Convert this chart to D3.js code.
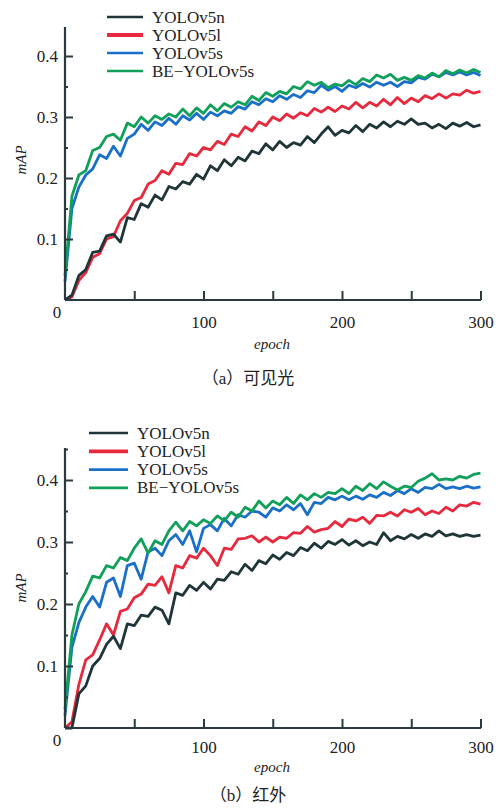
<!DOCTYPE html>
<meta charset="utf-8">
<head>
  <title>mAP curves</title>
</head>

<style>
  body { margin: 0; background: #fff; }
</style>

<body>
  <svg width="496" height="808"></svg>

  <script src="https://cdnjs.cloudflare.com/ajax/libs/d3/7.8.5/d3.min.js"></script>

  <script>
  // epochs 0..300, every 5
  var epochs = d3.range(0, 301, 5);
  var names = ['YOLOv5n', 'YOLOv5l', 'YOLOv5s', 'BE-YOLOv5s'];
  var colors = ['#1f3538', '#e8283c', '#1a6fc9', '#10a05a'];

  // (a) visible light
  var visN = [0,0.008,0.04,0.05,0.078,0.08,0.105,0.108,0.095,0.135,0.132,0.158,0.152,0.172,0.164,0.186,0.182,0.194,0.19,0.206,
    0.198,0.22,0.212,0.23,0.22,0.234,0.228,0.244,0.24,0.256,0.246,0.26,0.25,0.258,0.254,0.268,0.258,0.272,0.284,0.27,
    0.278,0.274,0.286,0.276,0.288,0.282,0.292,0.284,0.293,0.288,0.297,0.288,0.29,0.282,0.288,0.281,0.29,0.285,0.291,0.284,0.287];
  var visL = [0,0.005,0.032,0.045,0.07,0.076,0.1,0.104,0.13,0.142,0.163,0.168,0.19,0.196,0.212,0.206,0.224,0.222,0.24,0.236,
    0.25,0.246,0.26,0.255,0.272,0.268,0.284,0.277,0.292,0.286,0.3,0.294,0.305,0.298,0.307,0.302,0.314,0.308,0.316,0.309,
    0.318,0.313,0.324,0.315,0.324,0.318,0.329,0.32,0.332,0.322,0.331,0.325,0.335,0.33,0.338,0.331,0.338,0.336,0.344,0.339,0.342];
  var visS = [0.03,0.15,0.185,0.205,0.215,0.238,0.232,0.252,0.236,0.265,0.272,0.288,0.278,0.292,0.286,0.298,0.288,0.302,0.295,0.306,
    0.296,0.308,0.302,0.31,0.306,0.317,0.313,0.325,0.32,0.33,0.325,0.335,0.329,0.337,0.332,0.343,0.34,0.352,0.344,0.35,
    0.342,0.352,0.348,0.355,0.349,0.357,0.352,0.357,0.35,0.358,0.356,0.365,0.362,0.37,0.366,0.373,0.369,0.374,0.369,0.373,0.368];
  var visBE = [0.04,0.17,0.205,0.212,0.245,0.25,0.268,0.272,0.262,0.29,0.284,0.3,0.29,0.302,0.296,0.305,0.3,0.313,0.302,0.315,
    0.306,0.32,0.31,0.322,0.316,0.325,0.32,0.334,0.327,0.34,0.334,0.342,0.338,0.35,0.346,0.358,0.352,0.357,0.348,0.354,
    0.351,0.36,0.353,0.363,0.358,0.369,0.364,0.37,0.36,0.365,0.36,0.368,0.364,0.372,0.366,0.376,0.371,0.377,0.372,0.378,0.373];

  // (b) infrared
  var irN = [0,0,0.055,0.068,0.1,0.112,0.135,0.148,0.128,0.168,0.165,0.182,0.18,0.195,0.19,0.168,0.218,0.214,0.23,0.222,
    0.235,0.224,0.24,0.238,0.252,0.248,0.264,0.254,0.27,0.265,0.279,0.272,0.283,0.278,0.291,0.286,0.298,0.29,0.301,0.296,
    0.304,0.295,0.302,0.294,0.3,0.296,0.315,0.302,0.309,0.305,0.312,0.306,0.313,0.309,0.318,0.31,0.313,0.309,0.312,0.309,0.311];
  var irL = [0,0.01,0.07,0.11,0.118,0.142,0.168,0.15,0.188,0.192,0.21,0.216,0.232,0.23,0.244,0.218,0.262,0.258,0.278,0.274,
    0.29,0.278,0.262,0.29,0.288,0.305,0.306,0.31,0.3,0.308,0.3,0.308,0.306,0.315,0.314,0.325,0.316,0.32,0.322,0.333,
    0.325,0.337,0.334,0.34,0.33,0.343,0.342,0.348,0.342,0.352,0.348,0.354,0.344,0.35,0.346,0.356,0.35,0.36,0.358,0.364,0.361];
  var irS = [0.02,0.13,0.17,0.195,0.212,0.195,0.235,0.242,0.212,0.262,0.266,0.24,0.284,0.29,0.278,0.302,0.312,0.296,0.318,0.284,
    0.322,0.328,0.318,0.338,0.326,0.344,0.34,0.35,0.348,0.34,0.355,0.35,0.36,0.352,0.362,0.344,0.364,0.362,0.372,0.368,
    0.374,0.368,0.374,0.369,0.376,0.372,0.38,0.375,0.383,0.378,0.386,0.38,0.388,0.386,0.393,0.386,0.389,0.386,0.39,0.387,0.389];
  var irBE = [0.03,0.15,0.2,0.22,0.245,0.242,0.262,0.258,0.275,0.27,0.29,0.305,0.282,0.302,0.296,0.318,0.332,0.318,0.333,0.326,
    0.336,0.33,0.342,0.334,0.348,0.34,0.356,0.35,0.366,0.355,0.366,0.36,0.372,0.362,0.376,0.368,0.378,0.372,0.38,0.378,
    0.386,0.378,0.39,0.383,0.394,0.386,0.397,0.39,0.384,0.39,0.388,0.398,0.403,0.41,0.4,0.402,0.4,0.406,0.403,0.409,0.411];

  var xTicks = [50, 100, 150, 200, 250, 300];
  var yTicksA = [0.05, 0.1, 0.15, 0.2, 0.25, 0.3, 0.35, 0.4];
  var yTicksB = [0.05, 0.1, 0.15, 0.2, 0.25, 0.3, 0.35, 0.4, 0.45];

  var serif = '"Liberation Serif", "Times New Roman", "DejaVu Serif", serif';
  var svg = d3.select('svg');
  var axisColor = '#2a3a3e';

  function txt(g, x, y, size, s) {
    return g.append('text').attr('x', x).attr('y', y)
      .style('font-family', serif).style('font-size', size + 'px').attr('fill', '#222')
      .text(s);
  }

  function panel(cfg) {
    var x = d3.scaleLinear().domain([0, 300]).range([65, 480.5]);
    var y = d3.scaleLinear().domain([0, 0.45]).range([cfg.y0, cfg.y0 - cfg.h]);
    var g = svg.append('g');

    // curves
    var line = d3.line()
      .x(function(d, i) { return x(epochs[i]); })
      .y(function(d) { return y(d); });
    [1, 0, 2, 3].forEach(function(k) {
      g.append('path')
        .datum(cfg.series[k])
        .attr('d', line)
        .attr('fill', 'none')
        .attr('stroke', colors[k])
        .attr('stroke-width', 2.8)
        .attr('stroke-linejoin', 'round');
    });

    // x axis
    var xa = g.append('g')
      .attr('transform', 'translate(0,' + cfg.y0 + ')')
      .call(d3.axisBottom(x).tickValues(xTicks).tickSize(-9).tickPadding(cfg.xPad)
        .tickFormat(function(d) { return d % 100 === 0 ? d : ''; }));
    xa.select('.domain').attr('d', 'M65,0H481');

    // y axis
    var ya = g.append('g')
      .attr('transform', 'translate(65,0)')
      .call(d3.axisLeft(y).tickValues(cfg.yTicks).tickSize(-8).tickPadding(7)
        .tickFormat(function(d) { return Math.round(d * 100) % 10 === 0 ? d3.format('.1f')(d) : ''; }));
    ya.select('.domain').attr('d', 'M0,' + cfg.y0 + 'V' + (cfg.y0 - cfg.top));
    ya.selectAll('.tick line')
      .attr('x2', function(d) { return Math.round(d * 100) % 10 === 0 ? 8 : 3; });

    [xa, ya].forEach(function(a) {
      a.select('.domain').attr('stroke', axisColor).attr('stroke-width', 2.2);
      a.selectAll('.tick line').attr('stroke', axisColor).attr('stroke-width', 2);
      a.selectAll('.tick text').style('font-size', '17px').style('font-family', serif).attr('fill', '#222');
    });

    txt(g, 57, cfg.y0 + 18, 17, '0').attr('text-anchor', 'middle');

    txt(g, 0, 0, 15, 'mAP')
      .attr('transform', 'translate(26,' + (cfg.y0 - 140) + ') rotate(-90)')
      .attr('text-anchor', 'middle').style('font-style', 'italic');
    txt(g, 272, cfg.epochY, 15, 'epoch')
      .attr('text-anchor', 'middle').style('font-style', 'italic');
    txt(g, 248, cfg.capY, 17, cfg.caption)
      .attr('text-anchor', 'middle')
      .style('font-family', '"Liberation Serif", "Noto Sans CJK SC", serif');

    // legend
    names.forEach(function(n, k) {
      var ly = cfg.legY + k * cfg.legStep;
      g.append('line')
        .attr('x1', cfg.legX).attr('x2', cfg.legX + cfg.legLen)
        .attr('y1', ly).attr('y2', ly)
        .attr('stroke', colors[k]).attr('stroke-width', k === 1 ? 3.8 : 2.6);
      txt(g, cfg.legX + cfg.legLen + 9, ly + 5.5, 17, n.replace('-', '\u2212'));
    });
  }

  panel({
    y0: 300, h: 274.5, top: 273, yTicks: yTicksA, xPad: 16,
    epochY: 349, capY: 384,
    series: [visN, visL, visS, visBE], caption: '（a）可见光',
    legX: 107, legLen: 36, legY: 17, legStep: 18
  });
  panel({
    y0: 728, h: 279, top: 280, yTicks: yTicksB, xPad: 13,
    epochY: 772, capY: 801,
    series: [irN, irL, irS, irBE], caption: '（b）红外',
    legX: 89, legLen: 39, legY: 433, legStep: 18.3
  });
  </script>
</body>
</html>
